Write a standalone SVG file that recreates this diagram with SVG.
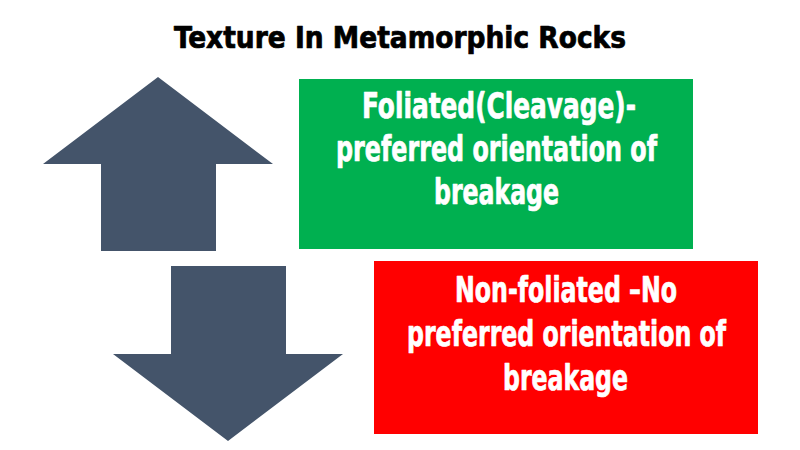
<svg xmlns="http://www.w3.org/2000/svg" width="800" height="450" viewBox="0 0 800 450">
<style>
.t{font-family:"DejaVu Sans Condensed","DejaVu Sans","Liberation Sans",sans-serif;font-weight:bold;font-stretch:condensed;text-anchor:middle;stroke-linejoin:round}
.w{fill:#ffffff;stroke:#ffffff;stroke-width:0.7px;font-size:35px}
.k{fill:#000000;stroke:#000000;stroke-width:0.7px;font-size:30px}
.arrow{fill:#44546A}
</style>
<rect width="800" height="450" fill="#ffffff"/>
<g id="title">
<text class="t k" x="400" y="48" textLength="452" lengthAdjust="spacingAndGlyphs">Texture In Metamorphic Rocks</text>
</g>
<g id="connectors">
<polygon id="up-arrow" class="arrow" points="158,77 273,164 216,164 216,251 101,251 101,164 43,164"/>
<polygon id="down-arrow" class="arrow" points="171,266 286,266 286,354 343,354 228,441 113,354 171,354"/>
</g>
<g id="foliated">
<rect x="299" y="79" width="394" height="170" fill="#00B050"/>
<text class="t w" x="499" y="118" textLength="274" lengthAdjust="spacingAndGlyphs">Foliated(Cleavage)-</text>
<text class="t w" x="496.5" y="161" textLength="321" lengthAdjust="spacingAndGlyphs">preferred orientation of</text>
<text class="t w" x="496.5" y="204" textLength="125" lengthAdjust="spacingAndGlyphs">breakage</text>
</g>
<g id="non-foliated">
<rect x="374" y="261" width="384" height="173" fill="#FF0000"/>
<text class="t w" x="566" y="302" textLength="222" lengthAdjust="spacingAndGlyphs">Non-foliated –No</text>
<text class="t w" x="566.5" y="346" textLength="319" lengthAdjust="spacingAndGlyphs">preferred orientation of</text>
<text class="t w" x="565.5" y="390" textLength="125" lengthAdjust="spacingAndGlyphs">breakage</text>
</g>
</svg>
